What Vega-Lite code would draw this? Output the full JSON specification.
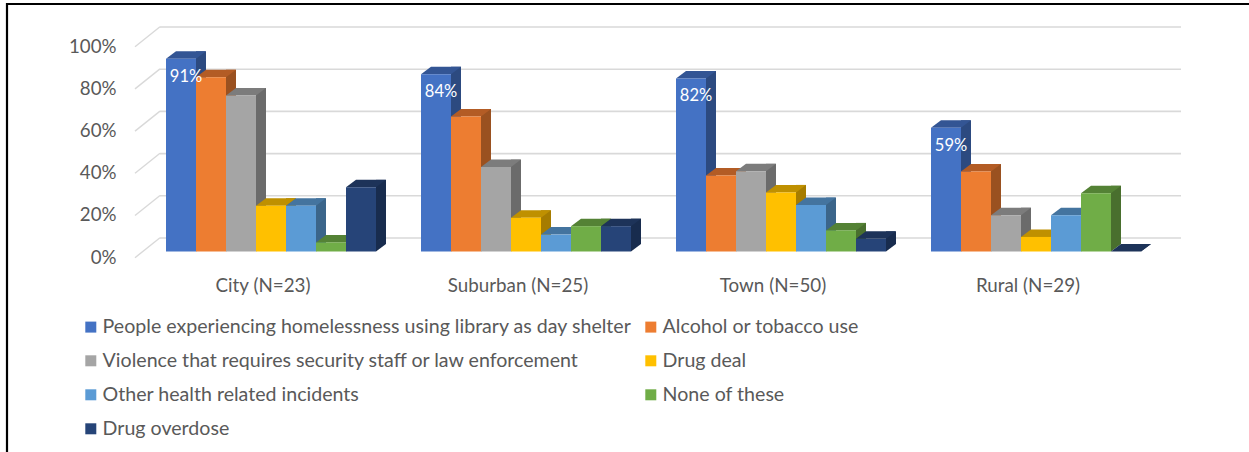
{
"$schema":"https://vega.github.io/schema/vega-lite/v6.json",
"width":1245,"height":452,
"autosize":{"type":"none"},
"padding":{"left":7,"top":4,"right":0,"bottom":0},
"background":"white",
"config":{"font":"Lato","view":{"stroke":"black","strokeWidth":2.2,"fill":"white"}},
"datasets":{
"grid":[{"v":0},{"v":20},{"v":40},{"v":60},{"v":80},{"v":100}],
"bars":[
{"cat":"City (N=23)","series":"People experiencing homelessness using library as day shelter","value":91.3,"label":"91%"},
{"cat":"City (N=23)","series":"Alcohol or tobacco use","value":82.6},
{"cat":"City (N=23)","series":"Violence that requires security staff or law enforcement","value":73.9},
{"cat":"City (N=23)","series":"Drug deal","value":21.7},
{"cat":"City (N=23)","series":"Other health related incidents","value":21.7},
{"cat":"City (N=23)","series":"None of these","value":4.3},
{"cat":"City (N=23)","series":"Drug overdose","value":30.4},
{"cat":"Suburban (N=25)","series":"People experiencing homelessness using library as day shelter","value":84,"label":"84%"},
{"cat":"Suburban (N=25)","series":"Alcohol or tobacco use","value":64},
{"cat":"Suburban (N=25)","series":"Violence that requires security staff or law enforcement","value":40},
{"cat":"Suburban (N=25)","series":"Drug deal","value":16},
{"cat":"Suburban (N=25)","series":"Other health related incidents","value":8},
{"cat":"Suburban (N=25)","series":"None of these","value":12},
{"cat":"Suburban (N=25)","series":"Drug overdose","value":12},
{"cat":"Town (N=50)","series":"People experiencing homelessness using library as day shelter","value":82,"label":"82%"},
{"cat":"Town (N=50)","series":"Alcohol or tobacco use","value":36},
{"cat":"Town (N=50)","series":"Violence that requires security staff or law enforcement","value":38},
{"cat":"Town (N=50)","series":"Drug deal","value":28},
{"cat":"Town (N=50)","series":"Other health related incidents","value":22},
{"cat":"Town (N=50)","series":"None of these","value":10},
{"cat":"Town (N=50)","series":"Drug overdose","value":6},
{"cat":"Rural (N=29)","series":"People experiencing homelessness using library as day shelter","value":58.6,"label":"59%"},
{"cat":"Rural (N=29)","series":"Alcohol or tobacco use","value":37.9},
{"cat":"Rural (N=29)","series":"Violence that requires security staff or law enforcement","value":17.2},
{"cat":"Rural (N=29)","series":"Drug deal","value":6.9},
{"cat":"Rural (N=29)","series":"Other health related incidents","value":17.2},
{"cat":"Rural (N=29)","series":"None of these","value":27.6},
{"cat":"Rural (N=29)","series":"Drug overdose","value":0}
]},
"resolve":{"scale":{"color":"independent","xOffset":"independent"}},
"encoding":{
"y":{"field":"value","type":"quantitative","scale":{"domain":[0,100],"range":[247.5,36.5],"nice":false,"zero":false},
 "axis":{"title":null,"values":[0,20,40,60,80,100],"labelExpr":"datum.value+'%'","grid":false,"domain":false,"ticks":false,"labelPadding":-109,"labelOffset":5.5,"labelFontSize":18.7,"labelColor":"#595959","labelFont":"Lato"}}
},
"layer":[
{"data":{"name":"grid"},"mark":{"type":"point","shape":"M-11.1,0L91,0","size":400,"filled":false,"opacity":1,"color":"#d9d9d9","strokeWidth":1.6,"yOffset":-13.5},
 "encoding":{"y":{"field":"v","type":"quantitative"},"x":{"datum":"City (N=23)","type":"nominal"}}},
{"data":{"name":"grid"},"mark":{"type":"point","shape":"M-1.25,0.67L1.25,-1.33","size":400,"filled":false,"opacity":1,"color":"#d9d9d9","strokeWidth":1.4,"xOffset":-123.5,"yOffset":-0.5},
 "encoding":{"y":{"field":"v","type":"quantitative"},"x":{"datum":"City (N=23)","type":"nominal"}}},
{"data":{"name":"bars"},"mark":{"type":"bar","width":10,"yOffset":-7.5,"y2Offset":-7.5,"cornerRadius":0},
 "encoding":{
  "x":{"field":"cat","type":"nominal","sort":null},
  "xOffset":{"field":"series","type":"nominal","sort":null,"scale":{"type":"band","paddingInner":0,"paddingOuter":0.75,"range":[20,275]}},
  "color":{"field":"series","type":"nominal","legend":null,"sort":null,"scale":{"range":["#2c4a80","#9a5120","#6b6b6b","#a67c00","#3b658a","#496f2e","#182c4e"]}}
 }},
{"data":{"name":"bars"},"mark":{"type":"point","shape":"M1.5,0L2.5,-0.75L1.5,-0.75Z","size":400,"filled":true,"opacity":1},
 "transform":[{"calculate":"0","as":"floor"}],
 "encoding":{
  "x":{"field":"cat","type":"nominal","sort":null},
  "xOffset":{"field":"series","type":"nominal","sort":null,"scale":{"type":"band","paddingInner":0,"paddingOuter":0.75}},
  "y":{"field":"floor","type":"quantitative"},
  "color":{"field":"series","type":"nominal","legend":null,"sort":null,"scale":{"range":["#2c4a80","#9a5120","#6b6b6b","#a67c00","#3b658a","#496f2e","#182c4e"]}}
 }},
{"data":{"name":"bars"},"mark":{"type":"point","shape":"M-1.5,0L1.5,0L2.5,-0.75L-0.5,-0.75Z","size":400,"filled":true,"opacity":1},
 "encoding":{
  "x":{"field":"cat","type":"nominal","sort":null},
  "xOffset":{"field":"series","type":"nominal","sort":null,"scale":{"type":"band","paddingInner":0,"paddingOuter":0.75}},
  "color":{"field":"series","type":"nominal","legend":null,"sort":null,"scale":{"range":["#335594","#b35c25","#7c7c7c","#bf9000","#44749f","#548235","#1d3359"]}}
 }},
{"data":{"name":"bars"},"mark":{"type":"bar"},
 "encoding":{
  "x":{"field":"cat","type":"nominal","sort":null,"scale":{"range":[136.5,1156.5],"paddingInner":0,"paddingOuter":0},
   "axis":{"title":null,"domain":false,"ticks":false,"labelAngle":0,"labelAlign":"center","labelOffset":-8,"offset":-171,"labelPadding":0,"labelFontSize":18.8,"labelColor":"#595959","labelFont":"Lato"}},
  "xOffset":{"field":"series","type":"nominal","sort":null,"scale":{"type":"band","paddingInner":0,"paddingOuter":0.75}},
  "color":{"field":"series","type":"nominal","sort":null,
   "scale":{"domain":["People experiencing homelessness using library as day shelter","Alcohol or tobacco use","Violence that requires security staff or law enforcement","Drug deal","Other health related incidents","None of these","Drug overdose"],"range":["#4472c4","#ed7d31","#a5a5a5","#ffc000","#5b9bd5","#70ad47","#264478"]},
   "legend":{"title":null,"orient":"none","legendX":74,"legendY":313,"columns":2,"direction":"horizontal","symbolType":"square","symbolSize":121,"symbolStrokeWidth":0,"labelFontSize":19.6,"labelColor":"#595959","labelFont":"Lato","labelLimit":1000,"rowPadding":13,"columnPadding":9,"labelOffset":2,"gridAlign":"each"}}
 }},
{"data":{"name":"bars"},"transform":[{"filter":"datum.label"}],"mark":{"type":"text","color":"white","fontSize":16.5,"dx":5,"dy":18,"font":"Lato"},
 "encoding":{
  "x":{"field":"cat","type":"nominal","sort":null},
  "xOffset":{"field":"series","type":"nominal","sort":null,"scale":{"type":"band","paddingInner":0,"paddingOuter":0.75,"domain":["People experiencing homelessness using library as day shelter","Alcohol or tobacco use","Violence that requires security staff or law enforcement","Drug deal","Other health related incidents","None of these","Drug overdose"]}},
  "text":{"field":"label"}
 }}
]
}
